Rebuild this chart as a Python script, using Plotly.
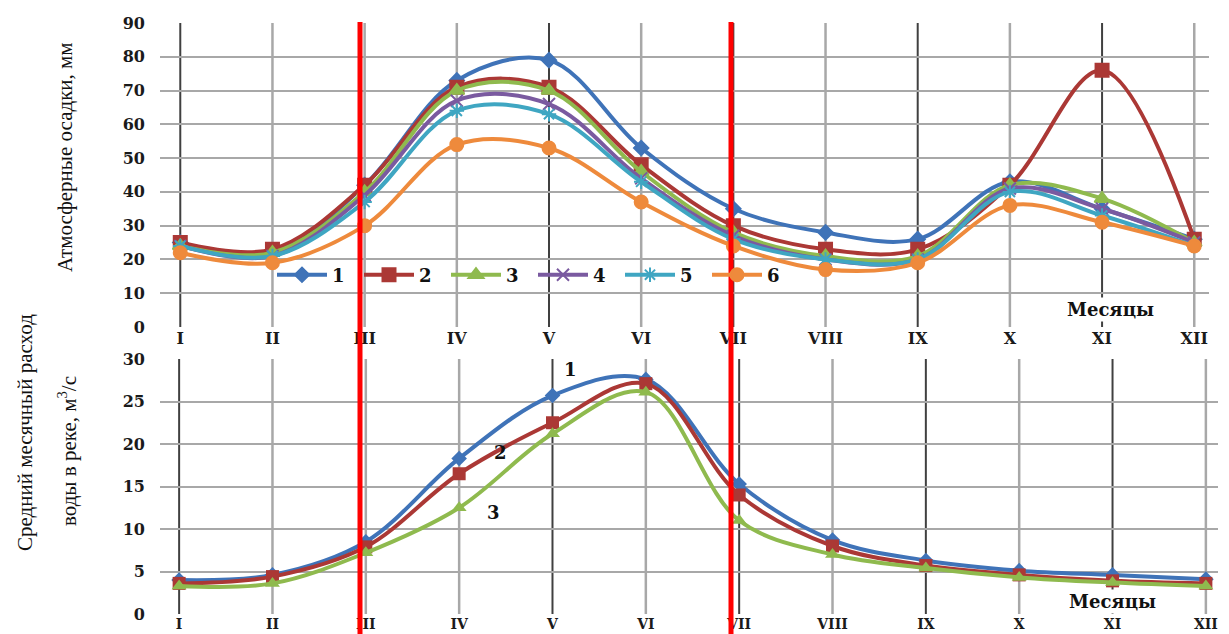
import plotly.graph_objects as go
from plotly.subplots import make_subplots

months = ["I", "II", "III", "IV", "V", "VI", "VII", "VIII", "IX", "X", "XI", "XII"]

# atmospheric precipitation, mm (top panel)
prec_1 = [25, 22, 42, 73, 79, 53, 35, 28, 26, 43, 35, 26]
prec_2 = [25, 23, 42, 71, 71, 48, 30, 23, 23, 42, 76, 26]
prec_3 = [24, 22, 40, 70, 70, 46, 28, 21, 21, 42, 38, 25]
prec_4 = [24, 21, 39, 67, 66, 44, 27, 20, 20, 41, 35, 25]
prec_5 = [24, 21, 37, 64, 63, 43, 26, 20, 20, 40, 33, 24]
prec_6 = [22, 19, 30, 54, 53, 37, 24, 17, 19, 36, 31, 24]

# mean monthly river discharge, m3/s (bottom panel)
flow_1 = [4.0, 4.6, 8.5, 18.3, 25.7, 27.6, 15.3, 8.7, 6.3, 5.1, 4.6, 4.1]
flow_2 = [3.6, 4.4, 7.9, 16.5, 22.5, 27.1, 14.0, 8.0, 5.7, 4.6, 3.9, 3.6]
flow_3 = [3.3, 3.6, 7.2, 12.5, 21.2, 26.1, 11.0, 7.0, 5.4, 4.3, 3.7, 3.3]

blue = "#3f73b8"
red = "#ab3835"
green = "#8fba4e"
purple = "#7a5aa0"
teal = "#3fa6c2"
orange = "#ee8a3c"

# the page has an 8px body margin, so the figure is a bit smaller than the window
OFF = 8
W, H = 1229 - OFF, 634 - OFF


def fx(p):
    return (p - OFF) / W


def fy(p):
    return 1 - (p - OFF) / H


x = list(range(12))

fig = make_subplots(rows=2, cols=1)

top = [
    (prec_1, "1", blue, "diamond", 11),
    (prec_2, "2", red, "square", 13),
    (prec_3, "3", green, "triangle-up", 13),
    (prec_4, "4", purple, "x-thin-open", 12),
    (prec_5, "5", teal, "asterisk-open", 12),
    (prec_6, "6", orange, "circle", 13),
]
for vals, nm, col, sym, sz in top:
    fig.add_trace(go.Scatter(x=x, y=vals, name=nm, mode="lines+markers",
                             line=dict(color=col, width=4, shape="spline", smoothing=1),
                             marker=dict(symbol=sym, size=sz, color=col, line=dict(color=col, width=2)),
                             showlegend=True), row=1, col=1)

bottom = [
    (flow_1, blue, "diamond", 12),
    (flow_2, red, "square", 13),
    (flow_3, green, "triangle-up", 13),
]
for vals, col, sym, sz in bottom:
    fig.add_trace(go.Scatter(x=x, y=vals, mode="lines+markers",
                             line=dict(color=col, width=4, shape="spline", smoothing=1),
                             marker=dict(symbol=sym, size=sz, color=col),
                             showlegend=False), row=2, col=1)

tick_font = dict(family="DejaVu Serif", size=16, color="#1a1a1a", weight="bold")
grid_col = "#a8a8a8"

fig.update_xaxes(tickmode="array", tickvals=x, ticktext=months, showgrid=False,
                 zeroline=False, showline=False,
                 tickfont=dict(family="DejaVu Serif", size=16, color="#1a1a1a", weight="bold"),
                 ticks="", automargin=False, ticklabelstandoff=0)
fig.update_yaxes(showgrid=True, gridcolor=grid_col, gridwidth=2, zeroline=False,
                 tickfont=tick_font, ticklabelstandoff=14, automargin=False)

fig.update_layout(
    xaxis=dict(domain=[fx(160), fx(1209)], range=[-0.22, 11.16]),
    yaxis=dict(domain=[fy(327), fy(23)], range=[0, 90], dtick=10),
    xaxis2=dict(domain=[fx(160), fx(1218)], range=[-0.205, 11.13],
                tickfont=dict(family="DejaVu Serif", size=14, color="#1a1a1a", weight="bold")),
    yaxis2=dict(domain=[fy(614), fy(359)], range=[0, 30], dtick=5),
)

# vertical month grid lines, darker at some months
dark = {0, 4, 6, 8, 10}
shapes = []
for i in x:
    col = "#404040" if i in dark else grid_col
    w = 2 if i in dark else 2.5
    for xr, yr, y1 in (("x", "y", 90), ("x2", "y2", 30)):
        shapes.append(dict(type="line", xref=xr, yref=yr, x0=i, x1=i, y0=0, y1=y1,
                           line=dict(color=col, width=w), layer="below"))

# red boundary lines
for px in (360, 731):
    shapes.append(dict(type="line", xref="paper", yref="paper", x0=fx(px), x1=fx(px),
                       y0=0, y1=fy(22), line=dict(color="#ff0000", width=5), layer="above"))

bold = dict(family="DejaVu Serif", size=18, color="#111111", weight="bold")
title_font = dict(family="Liberation Serif", size=21, color="#111111")


def note(text, px, py, font, angle=0, **kw):
    return dict(text=text, textangle=angle, xref="paper", yref="paper", x=fx(px), y=fy(py),
                xanchor="center", yanchor="middle", showarrow=False, font=font, **kw)


annotations = [
    note("Атмосферные осадки, мм", 65, 157, title_font, -90),
    note("Средний месячный расход", 25, 433, title_font, -90),
    note("воды в реке, м<sup>3</sup>/с", 67, 451, title_font, -90),
    note("Месяцы", 1110, 310, bold, bgcolor="white"),
    note("Месяцы", 1112, 601, bold, bgcolor="white"),
    note("1", 570, 369, bold),
    note("2", 500, 452, bold),
    note("3", 493, 512, bold),
]

fig.update_layout(
    width=W, height=H,
    margin=dict(l=0, r=0, t=0, b=0),
    plot_bgcolor="white", paper_bgcolor="white",
    shapes=shapes, annotations=annotations,
    legend=dict(orientation="h", x=fx(272), y=fy(275), xanchor="left", yanchor="middle",
                bgcolor="rgba(0,0,0,0)",
                font=dict(family="DejaVu Serif", size=18, color="#111111", weight="bold"),
                entrywidth=22, entrywidthmode="pixels", itemwidth=50),
)

fig.write_html("out.html")
